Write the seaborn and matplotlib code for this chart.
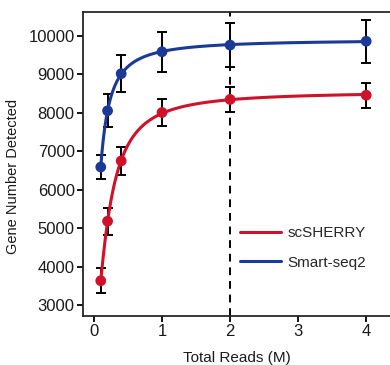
import numpy as np
import pandas as pd
import matplotlib
matplotlib.use("Agg")
import matplotlib.pyplot as plt
import seaborn as sns

# values
reads = [0.1, 0.2, 0.4, 1.0, 2.0, 4.0]
sherry_mean = [3630, 5180, 6750, 8010, 8350, 8460]
sherry_err = [320, 355, 365, 340, 330, 330]
smart_mean = [6590, 8055, 9020, 9590, 9765, 9865]
smart_err = [320, 430, 480, 520, 580, 560]

xticks = [0, 1, 2, 3, 4]
yticks = [3000, 4000, 5000, 6000, 7000, 8000, 9000, 10000]

red = "#cf1129"
blue = "#1b3a98"


def saturation_fit(x, y, xs):
    """Least-squares Hill fit y = c + v*x^n/(k^n+x^n), grid over k and n."""
    x = np.asarray(x, float)
    y = np.asarray(y, float)
    best = None
    for n in np.linspace(0.8, 3.0, 45):
        for k in np.linspace(0.02, 1.5, 300):
            h = x ** n / (k ** n + x ** n)
            A = np.column_stack([np.ones_like(x), h])
            coef, *_ = np.linalg.lstsq(A, y, rcond=None)
            res = np.sum((A @ coef - y) ** 2)
            if best is None or res < best[0]:
                best = (res, k, n, coef)
    _, k, n, coef = best
    return coef[0] + coef[1] * xs ** n / (k ** n + xs ** n)


sns.set_style("ticks")
plt.rcParams["font.family"] = ["Liberation Sans", "DejaVu Sans"]
plt.rcParams["axes.linewidth"] = 1.3

fig = plt.figure(figsize=(3.9, 3.65), dpi=100)
ax = fig.add_axes([0.213, 0.134, 0.787, 0.833])

xs = np.linspace(0.1, 4.0, 400)
curves = pd.DataFrame({
    "x": np.concatenate([xs, xs]),
    "y": np.concatenate([saturation_fit(reads, sherry_mean, xs),
                         saturation_fit(reads, smart_mean, xs)]),
    "method": ["scSHERRY"] * len(xs) + ["Smart-seq2"] * len(xs),
})
points = pd.DataFrame({
    "x": reads + reads,
    "y": sherry_mean + smart_mean,
    "err": sherry_err + smart_err,
    "method": ["scSHERRY"] * len(reads) + ["Smart-seq2"] * len(reads),
})
palette = {"scSHERRY": red, "Smart-seq2": blue}

ax.axvline(2, color="black", lw=1.4, ls=(0, (4, 3)), zorder=1)

ax.errorbar(points["x"], points["y"], yerr=points["err"], fmt="none",
            ecolor="black", elinewidth=1.4, capsize=3.5, capthick=1.4, zorder=2)

sns.lineplot(data=curves, x="x", y="y", hue="method", palette=palette,
             lw=2.2, ax=ax, zorder=3)
sns.scatterplot(data=points, x="x", y="y", hue="method", palette=palette,
                s=60, edgecolor="none", legend=False, ax=ax, zorder=4)

ax.set_xlim(-0.16, 4.35)
ax.set_ylim(2710, 10625)
ax.set_xticks(xticks)
ax.set_yticks(yticks)
ax.tick_params(labelsize=12, length=4, width=1.3, color="black",
               labelcolor="#1a1a1a", pad=2)
ax.spines["right"].set_visible(False)
ax.set_xlabel("Total Reads (M)", fontsize=11, color="#1a1a1a", labelpad=8)
ax.set_ylabel("Gene Number Detected", fontsize=10.5, color="#1a1a1a")
ax.yaxis.set_label_coords(-0.205, 0.46)

leg = ax.legend(loc="center left", bbox_to_anchor=(0.511, 0.224), frameon=False,
                fontsize=11, handlelength=2.7, handletextpad=0.4,
                labelspacing=1.0, borderpad=0, borderaxespad=0)
for line in leg.get_lines():
    line.set_linewidth(2.2)

fig.savefig("out.png", dpi=100)
